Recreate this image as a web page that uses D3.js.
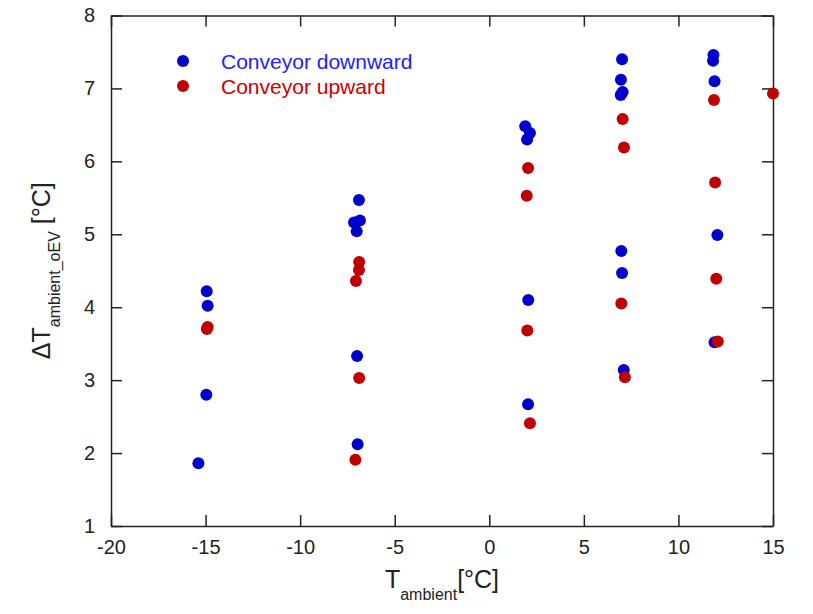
<html>
<head>
    <script src="https://d3js.org/d3.v7.min.js"></script>
    <style>
        body { margin: 0; background: #fff; }
        text { font-family: "Liberation Sans", Arial, sans-serif; }
    </style>
</head>
<body>
    <svg id="chart"></svg>
    <script>
        // conveyor downward (blue)
        var downX = [-14.94, -14.89, -14.96, -15.38,
            -6.89, -7.15, -6.84, -7.01, -6.99, -6.96,
            1.9, 2.15, 2.0, 2.06, 2.05,
            7.02, 6.96, 7.05, 6.95, 6.98, 7.02, 7.11,
            11.85, 11.83, 11.91, 12.06, 11.91];
        var downY = [4.22, 4.02, 2.80, 1.86,
            5.47, 5.16, 5.19, 5.04, 3.33, 2.12,
            6.48, 6.39, 6.30, 4.10, 2.67,
            7.40, 7.12, 6.95, 6.91, 4.77, 4.47, 3.14,
            7.46, 7.38, 7.10, 4.99, 3.52];
        // conveyor upward (red)
        var upX = [-14.89, -14.93,
            -6.88, -6.89, -7.05, -6.88, -7.08,
            2.05, 1.98, 2.01, 2.15,
            7.05, 7.12, 6.98, 7.17,
            11.88, 11.94, 12.0, 12.08,
            15.0];
        var upY = [3.73, 3.70,
            4.62, 4.51, 4.36, 3.03, 1.91,
            5.91, 5.53, 3.68, 2.41,
            6.58, 6.19, 4.05, 3.04,
            6.84, 5.71, 4.39, 3.53,
            6.93];
        var xTicks = [-20, -15, -10, -5, 0, 5, 10, 15];
        var yTicks = [1, 2, 3, 4, 5, 6, 7, 8];
        var legendNames = ["Conveyor downward", "Conveyor upward"];

        var W = 813, H = 614;
        var pLeft = 111, pRight = 773, pTop = 15.5, pBottom = 526;
        var svg = d3.select("#chart").attr("width", W).attr("height", H);

        var x = d3.scaleLinear().domain([-20, 15]).range([pLeft, pRight]);
        var y = d3.scaleLinear().domain([1, 8]).range([pBottom, pTop]);
        var fmt = function (d) { return String(d); };

        function styleAxis(g) {
            g.selectAll("path, line").attr("stroke", "#222").attr("stroke-width", 1.5);
            g.selectAll("text").attr("font-size", 20).attr("fill", "#222")
                .attr("font-family", "Liberation Sans, Arial, sans-serif");
        }

        svg.append("g").attr("transform", "translate(0," + pBottom + ")")
            .call(d3.axisBottom(x).tickValues(xTicks).tickFormat(fmt).tickSizeInner(-11).tickSizeOuter(0).tickPadding(14))
            .call(styleAxis);
        svg.append("g").attr("transform", "translate(0," + pTop + ")")
            .call(d3.axisTop(x).tickValues(xTicks).tickSizeInner(-11).tickSizeOuter(0).tickFormat(""))
            .call(styleAxis);
        svg.append("g").attr("transform", "translate(" + pLeft + ",0)")
            .call(d3.axisLeft(y).tickValues(yTicks).tickFormat(fmt).tickSizeInner(-11).tickSizeOuter(0).tickPadding(16))
            .call(styleAxis);
        svg.append("g").attr("transform", "translate(" + pRight + ",0)")
            .call(d3.axisRight(y).tickValues(yTicks).tickSizeInner(-11).tickSizeOuter(0).tickFormat(""))
            .call(styleAxis);

        // points
        svg.append("g").selectAll("circle")
            .data(d3.range(downX.length))
            .enter().append("circle")
            .attr("cx", function (i) { return x(downX[i]); })
            .attr("cy", function (i) { return y(downY[i]); })
            .attr("r", 6)
            .attr("fill", "#0000cc");
        svg.append("g").selectAll("circle")
            .data(d3.range(upX.length))
            .enter().append("circle")
            .attr("cx", function (i) { return x(upX[i]); })
            .attr("cy", function (i) { return y(upY[i]); })
            .attr("r", 6)
            .attr("fill", "#c00000");

        // legend
        var legColors = ["#0000cc", "#c00000"];
        var legText = ["#2222ff", "#cc0000"];
        legendNames.forEach(function (name, i) {
            var ly = 61 + i * 25;
            svg.append("circle").attr("cx", 183).attr("cy", ly).attr("r", 6).attr("fill", legColors[i]);
            svg.append("text").attr("x", 221).attr("y", ly).attr("dy", "0.36em")
                .attr("font-size", 21).attr("fill", legText[i]).text(name);
        });

        // x axis title
        var xt = svg.append("text").attr("x", (pLeft + pRight) / 2).attr("y", 588)
            .attr("text-anchor", "middle").attr("font-size", 25).attr("fill", "#222");
        xt.append("tspan").text("T");
        xt.append("tspan").attr("font-size", 16).attr("dy", 12).text("ambient");
        xt.append("tspan").attr("dy", -12).text("[°C]");

        // y axis title
        var yt = svg.append("text")
            .attr("transform", "translate(50," + ((pTop + pBottom) / 2) + ") rotate(-90)")
            .attr("text-anchor", "middle").attr("font-size", 25).attr("fill", "#222");
        yt.append("tspan").text("ΔT");
        yt.append("tspan").attr("font-size", 16).attr("dy", 10).text("ambient_oEV");
        yt.append("tspan").attr("dy", -10).text(" [°C]");
    </script>
</body>
</html>
